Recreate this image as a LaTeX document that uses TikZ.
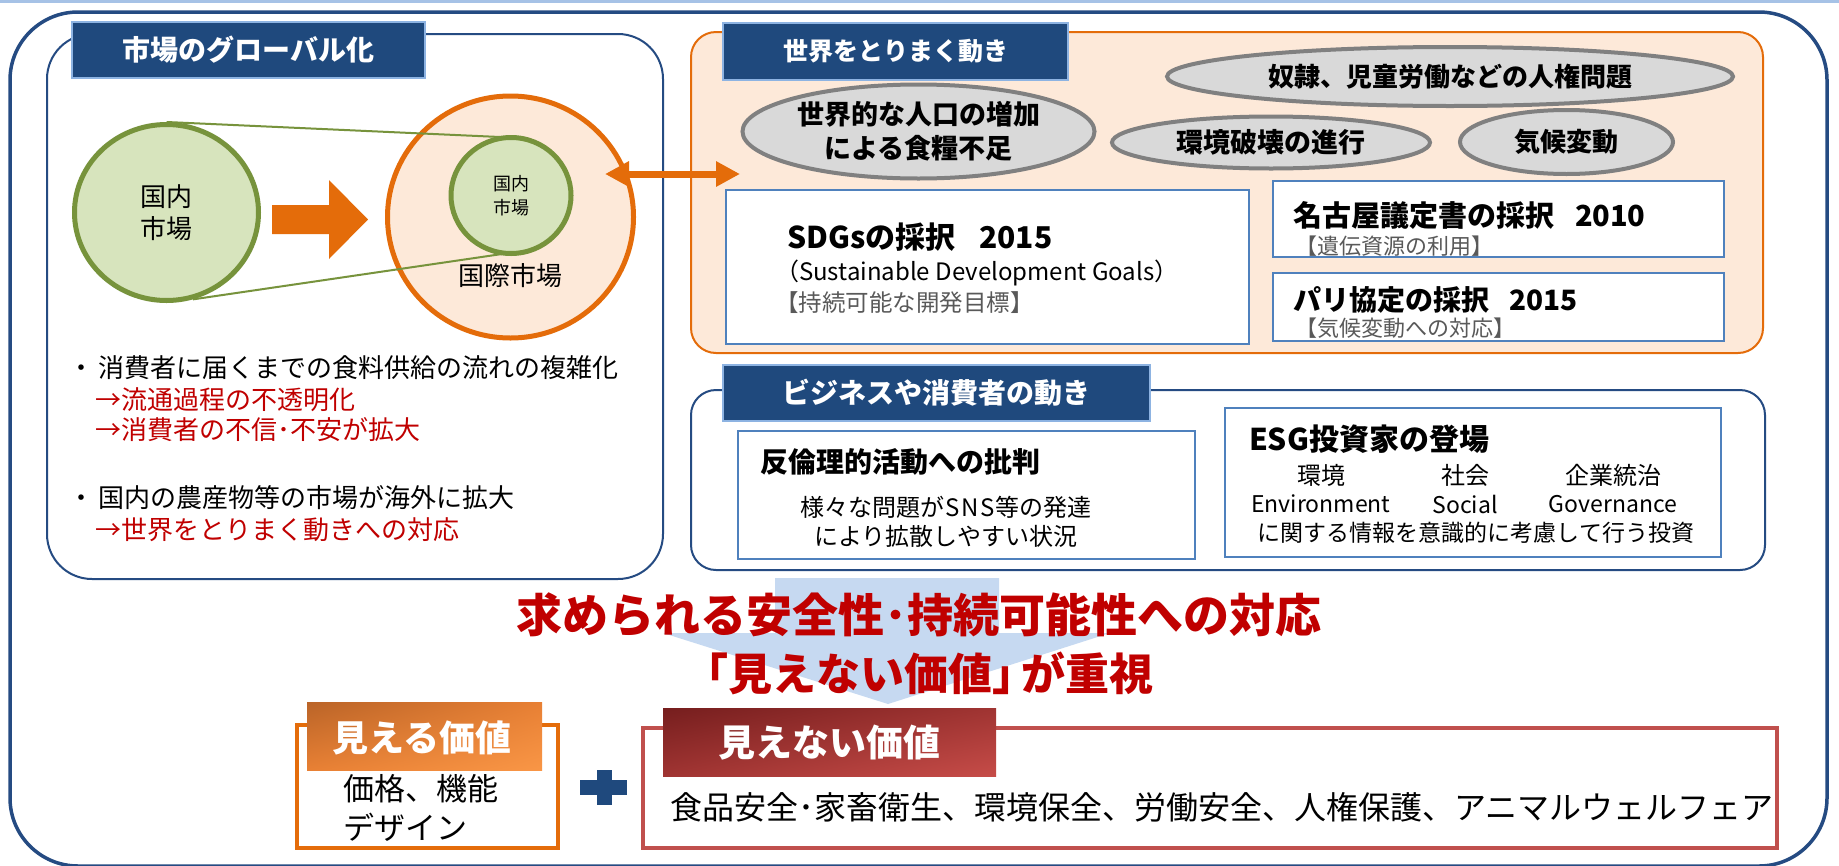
\documentclass[tikz,border=0pt]{standalone}
\usepackage{fontspec}
\setmainfont{Noto Sans CJK JP}
\usetikzlibrary{arrows.meta,shapes.geometric,shadings}
\definecolor{frameblue}{RGB}{37,75,130}
\definecolor{tabblue}{RGB}{31,73,125}
\definecolor{tabedge}{RGB}{141,179,226}
\definecolor{orng}{RGB}{228,108,10}
\definecolor{peach}{RGB}{253,233,217}
\definecolor{gfill}{RGB}{215,228,189}
\definecolor{gedge}{RGB}{119,147,60}
\definecolor{efill}{RGB}{217,217,217}
\definecolor{eedge}{RGB}{128,128,128}
\definecolor{boxblue}{RGB}{79,129,189}
\definecolor{redtxt}{RGB}{192,0,0}
\definecolor{lblue}{RGB}{198,217,241}
\definecolor{redbox}{RGB}{192,80,77}
\definecolor{graytxt}{RGB}{89,89,89}
\definecolor{toplinec}{RGB}{166,194,230}
\definecolor{plusblue}{RGB}{31,73,125}
\definecolor{otabA}{RGB}{186,100,40}
\definecolor{otabB}{RGB}{232,128,52}
\definecolor{otabC}{RGB}{249,150,70}
\definecolor{rtabA}{RGB}{118,30,30}
\definecolor{rtabB}{RGB}{160,52,50}
\definecolor{rtabC}{RGB}{198,76,72}
\begin{document}
\begin{tikzpicture}[x=1pt,y=-1pt,
  fsz/.style={inner sep=0pt,outer sep=0pt,font=\fontsize{#1}{#1}\selectfont},
  fszb/.style={inner sep=0pt,outer sep=0pt,font=\fontsize{#1}{#1}\selectfont\bfseries},
  panelbox/.style={draw=frameblue,line width=2pt,rounded corners=#1,inner sep=0pt},
  tabbox/.style={fill=tabblue,draw=tabedge,line width=1.5pt,text=white,inner sep=0pt},
  cloud/.style={ellipse,fill=efill,draw=eedge,line width=4pt,inner sep=0pt,align=center},
  infobox/.style={draw=boxblue,line width=2pt,fill=white,inner sep=0pt},
  gcirc/.style={ellipse,fill=gfill,draw=gedge,line width=5pt,inner sep=0pt,align=center},
  ocirc/.style={ellipse,fill=peach,draw=orng,line width=5pt,inner sep=0pt},
  redline/.style={text=redtxt},
  graynote/.style={text=graytxt},
]
\useasboundingbox (0,0) rectangle (1839,865);
\fill[white] (0,0) rectangle (1839,865);
% top thin line
\fill[toplinec] (0,0) rectangle (1839,2.5);
% outer frame
\draw[frameblue,line width=3.5pt,rounded corners=68pt] (10,12) rectangle (1827,866);

% ===== Panel 1 =====
\node[panelbox=45pt,minimum width=616pt,minimum height=545pt] (p1) at (355,306.5) {};
\node[tabbox,fszb=28,minimum width=353pt,minimum height=56pt,text=white] (t1) at (248.5,50) {市場のグローバル化};

\node[ocirc,minimum width=246pt,minimum height=242pt] (big) at (510.5,217) {};
\node[gcirc,minimum width=184pt,minimum height=176pt,font=\fontsize{26}{32}\selectfont] (lc) at (166.5,212.5) {国内\\市場};
\draw[gedge,line width=2pt] (lc.north) -- (511,137.5) coordinate (sctop);
\draw[gedge,line width=2pt] (lc.-73) -- (502,254) coordinate (scbot);
\node[gcirc,minimum width=120pt,minimum height=116pt,font=\fontsize{18}{24}\selectfont] (sc) at (511,195.5) {国内\\市場};
\node[fsz=26] (intl) at (510,276) {国際市場};
% block arrow
\fill[orng] (272,205) -- (329,205) -- (329,180) -- (368,219.5) -- (329,259) -- (329,234) -- (272,234) -- cycle;

\node[fsz=26,anchor=west] (b1) at (68,368) {・\hspace{5pt}消費者に届くまでの食料供給の流れの複雑化};
\node[fsz=26,anchor=west,redline] (b1a) at (95,400) {→流通過程の不透明化};
\node[fsz=26,anchor=west,redline] (b1b) at (95,430) {→消費者の不信･不安が拡大};
\node[fsz=26,anchor=west] (b2) at (68,498) {・\hspace{5pt}国内の農産物等の市場が海外に拡大};
\node[fsz=26,anchor=west,redline] (b2a) at (95,530) {→世界をとりまく動きへの対応};

% ===== Panel 2 =====
\node[draw=orng,fill=peach,line width=2pt,rounded corners=25pt,inner sep=0pt,minimum width=1072pt,minimum height=321pt] (p2) at (1227,192.5) {};
\node[tabbox,fszb=25,minimum width=345pt,minimum height=57pt] (t2) at (895.5,51.5) {世界をとりまく動き};

\node[cloud,minimum width=566pt,minimum height=59pt,font=\fontsize{26}{26}\selectfont\bfseries] (e1) at (1450,76.5) {奴隷、児童労働などの人権問題};
\node[cloud,minimum width=352pt,minimum height=94pt,font=\fontsize{27}{34}\selectfont\bfseries] (e2) at (918.5,131.5) {世界的な人口の増加\\による食糧不足};
\node[cloud,minimum width=318pt,minimum height=52pt,font=\fontsize{27}{27}\selectfont\bfseries] (e3) at (1271,142.5) {環境破壊の進行};
\node[cloud,minimum width=213pt,minimum height=64pt,font=\fontsize{26}{26}\selectfont\bfseries] (e4) at (1566.5,142) {気候変動};

\node[infobox,minimum width=523pt,minimum height=154pt] (sdg) at (987.5,267) {};
\node[fszb=30,anchor=west] (sdg1) at (787,237) {SDGsの採択\hspace{24pt}2015};
\node[fsz=24,anchor=west] (sdg2) at (775,273) {（Sustainable Development Goals）};
\node[fsz=23.5,anchor=west,graynote] (sdg3) at (775,303) {【持続可能な開発目標】};

\node[infobox,minimum width=451pt,minimum height=76pt] (ngy) at (1498.5,219) {};
\node[fszb=29,anchor=west] (ngy1) at (1293,215) {名古屋議定書の採択\hspace{21pt}2010};
\node[fsz=22,anchor=west,graynote] (ngy2) at (1295,246) {【遺伝資源の利用】};

\node[infobox,minimum width=451pt,minimum height=68pt] (par) at (1498.5,307) {};
\node[fszb=28,anchor=west] (par1) at (1293,300) {パリ協定の採択\hspace{20pt}2015};
\node[fsz=22,anchor=west,graynote] (par2) at (1295,328) {【気候変動への対応】};

% double arrow
\coordinate (dl) at (605,174);
\coordinate (dr) at (740,174);
\draw[orng,line width=7pt,{Triangle[length=24pt,width=24pt]}-{Triangle[length=24pt,width=24pt]}] (dl) -- (dr);

% ===== Panel 3 =====
\node[panelbox=25pt,minimum width=1074pt,minimum height=180pt] (p3) at (1228,480) {};
\node[tabbox,fszb=28,minimum width=427pt,minimum height=56pt] (t3) at (936.5,393) {ビジネスや消費者の動き};

\node[infobox,minimum width=457pt,minimum height=128pt] (anti) at (966.5,495) {};
\node[fszb=28,anchor=west] (anti1) at (760,462) {反倫理的活動への批判};
\node[inner sep=0pt,align=center,font=\fontsize{24}{29}\selectfont] (anti2) at (946,522) {様々な問題が\hspace{1pt}S\hspace{2pt}N\hspace{2pt}S\hspace{1pt}等の発達\\により拡散しやすい状況};

\node[infobox,minimum width=496pt,minimum height=149pt] (esg) at (1473,482.5) {};
\node[fszb=30,anchor=west] (esg1) at (1249,439) {ESG投資家の登場};
\node[fsz=24] (esgE) at (1321,475) {環境};
\node[fsz=24] (esgS) at (1465,475) {社会};
\node[fsz=24] (esgG) at (1613,475) {企業統治};
\node[fsz=23] (esgE2) at (1321,504) {Environment};
\node[fsz=23] (esgS2) at (1465,504) {Social};
\node[fsz=23] (esgG2) at (1613,504) {Governance};
\node[fsz=23] (esg3) at (1476,533) {に関する情報を意識的に考慮して行う投資};

% ===== Bottom =====
\fill[lblue] (775,578) -- (999,578) -- (999,633) -- (1110,633) -- (888,704) -- (663,633) -- (775,633) -- cycle;
\node[fszb=46,text=redtxt] (need1) at (919,615) {求められる安全性･持続可能性への対応};
\node[fszb=44,text=redtxt] (need2) at (919,673) {「見えない価値」\kern-0.35em が重視};

\node[draw=orng,line width=4.5pt,fill=white,inner sep=0pt,minimum width=261pt,minimum height=123pt] (vis) at (427.5,786.5) {};
\shade[upper left=otabA,lower right=otabC,upper right=otabB,lower left=otabB] (307,702) rectangle (542,770);
\node[fszb=36,text=white,minimum width=235pt,minimum height=68pt] (vist) at (422,738) {見える価値};
\node[fsz=31,anchor=west] (vis1) at (343,789) {価格、機能};
\node[fsz=31,anchor=west] (vis2) at (343,827) {デザイン};

\fill[plusblue] (580,780) rectangle (627,795);
\fill[plusblue] (597,770) rectangle (612,805);

\node[draw=redbox,line width=4.5pt,fill=white,inner sep=0pt,minimum width=1134pt,minimum height=120pt] (inv) at (1210,788) {};
\shade[upper left=rtabA,lower right=rtabC,upper right=rtabB,lower left=rtabB] (663,708) rectangle (996,776);
\node[fszb=37,text=white,minimum width=333pt,minimum height=68pt] (invt) at (829.5,743) {見えない価値};
\node[fsz=32,anchor=west] (inv1) at (670,807) {食品安全･家畜衛生、環境保全、労働安全、人権保護、アニマルウェルフェア};
\end{tikzpicture}
\end{document}
